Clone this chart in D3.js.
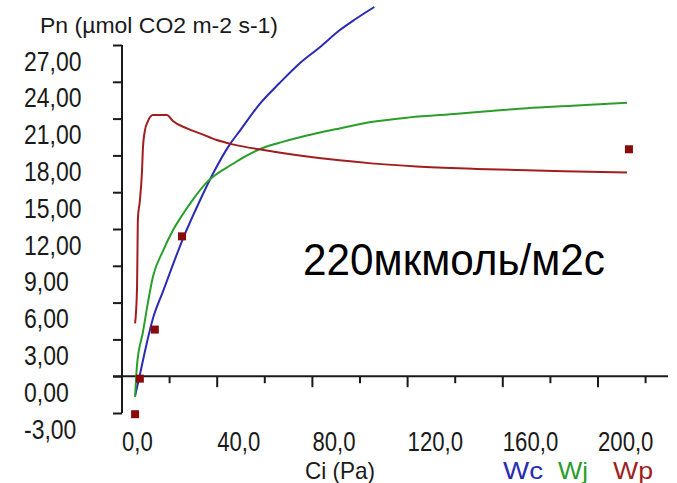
<!DOCTYPE html>
<html><head><meta charset="utf-8">
<script src="https://cdn.jsdelivr.net/npm/d3@7"></script>
<style>
html,body{margin:0;padding:0;background:#fff;}
svg{display:block;}
.ax{font-family:"Liberation Sans",Arial,sans-serif;fill:#1a1a1a;}
</style></head>
<body><svg id="c" width="677" height="483"></svg>
<script>
// ---- data ----
const yTicks = [-3, 0, 3, 6, 9, 12, 15, 18, 21, 24, 27];
const yTickLabels = ["-3,00","0,00","3,00","6,00","9,00","12,00","15,00","18,00","21,00","24,00","27,00"];
const xTicks = [0, 20, 40, 60, 80, 100, 120, 140, 160, 180, 200, 220];
const xLabelTicks = [0, 40, 80, 120, 160, 200];
const xTickLabels = ["0,0","40,0","80,0","120,0","160,0","200,0"];

const wcCi = [5.5, 7.5, 9.6, 13.0, 17.2, 21.4, 25.6, 32.7, 38.2, 45.3, 49.5, 57.9, 66.2, 74.6, 83.0, 91.4, 98.0, 106];
const wcPn = [-1.6, 0.1, 2.0, 4.7, 6.9, 9.1, 11.2, 14.3, 16.5, 18.9, 20.0, 22.2, 23.9, 25.5, 26.8, 28.2, 29.1, 30.1];

const wjCi = [5.5, 6.3, 8.8, 10.9, 13.0, 17.2, 21.4, 25.2, 29.8, 35.6, 46.5, 59.1, 67.5, 81.8, 91.4, 104, 120.8, 140.9, 153.5, 170.2, 189.1, 212.2];
const wjPn = [-1.7, 0.9, 3.6, 6.0, 8.1, 10.2, 11.9, 13.1, 14.4, 15.8, 17.3, 18.6, 19.1, 19.8, 20.2, 20.7, 21.1, 21.4, 21.6, 21.85, 22.05, 22.3];

const wpCi = [5.5, 6.3, 6.7, 7.5, 8.4, 8.8, 9.6, 10.9, 13.0, 18.9, 21.4, 27.3, 32.7, 39.8, 46.5, 60.8, 74.6, 91.4, 104.8, 123.7, 148.8, 185.7, 212.2];
const wpPn = [4.3, 7.1, 12.9, 14.3, 16.7, 18.6, 20.0, 20.8, 21.3, 21.3, 20.8, 20.2, 19.8, 19.25, 18.9, 18.4, 18.0, 17.6, 17.35, 17.1, 16.9, 16.7, 16.6];

const obsCi = [5.5, 7.5, 13.8, 25.2, 213];
const obsPn = [-3.1, -0.2, 3.8, 11.4, 18.5];

const seriesNames = ["Wc", "Wj", "Wp"];
const seriesColors = ["#2a2ab4", "#2a9e2a", "#a01e1e"];
const annotation = "220мкмоль/м2с";
const yTitle = "Pn (µmol CO2 m-2 s-1)";
const xTitle = "Ci (Pa)";

// ---- scales ----
const x = d3.scaleLinear().domain([0, 200]).range([122, 598]);
const y = d3.scaleLinear().domain([-3, 27]).range([413, 45]);

const svg = d3.select("#c");

// Y axis
const yAxis = d3.axisLeft(y).tickValues(yTicks).tickSize(9).tickFormat("");
const gy = svg.append("g").attr("transform", "translate(122,0)").call(yAxis);
gy.select(".domain").attr("d", `M0,${y(-3)}V${y(27)}`).attr("stroke", "#1a1a1a").attr("stroke-width", 2);
gy.selectAll(".tick line").attr("stroke", "#1a1a1a").attr("stroke-width", 2);

svg.append("g").selectAll("text").data(yTicks).join("text")
  .attr("class", "ax narrow").attr("x", 24).attr("y", d => y(d) + 25.5)
  .attr("font-size", 28).text((d, i) => yTickLabels[i]);

// X axis
svg.append("line").attr("x1", 113).attr("x2", 668).attr("y1", y(0)).attr("y2", y(0))
  .attr("stroke", "#1a1a1a").attr("stroke-width", 2);
svg.append("g").selectAll("line").data(xTicks.filter(d => d > 0)).join("line")
  .attr("x1", d => x(d)).attr("x2", d => x(d))
  .attr("y1", y(0)).attr("y2", d => y(0) + (d % 40 === 0 ? 11 : 7))
  .attr("stroke", "#1a1a1a").attr("stroke-width", 2);
svg.append("g").selectAll("text").data(xLabelTicks).join("text")
  .attr("class", "ax narrow").attr("x", d => x(d)).attr("y", 451)
  .attr("font-size", 27).text((d, i) => xTickLabels[i]);

// titles
svg.append("text").attr("class", "ax").attr("x", 40).attr("y", 33)
  .attr("font-size", 22).attr("textLength", 238).attr("lengthAdjust", "spacingAndGlyphs").text(yTitle);
svg.append("text").attr("class", "ax").attr("x", 305).attr("y", 479)
  .attr("font-size", 24).attr("textLength", 70).attr("lengthAdjust", "spacingAndGlyphs").text(xTitle);

// legend
const legX = [503, 558, 613];
const legW = [40, 30, 40];
svg.append("g").selectAll("text").data(seriesNames).join("text")
  .attr("class", "ax").attr("x", (d, i) => legX[i]).attr("y", 479)
  .attr("font-size", 24).attr("textLength", (d, i) => legW[i]).attr("lengthAdjust", "spacingAndGlyphs")
  .style("fill", (d, i) => seriesColors[i]).text(d => d);

// narrow the axis-number font (condensed look of the original)
svg.selectAll("text.narrow").each(function () {
  const w = this.getComputedTextLength();
  d3.select(this).attr("textLength", w * 0.82).attr("lengthAdjust", "spacingAndGlyphs");
});

// lines
const line = d3.line().x(d => x(d[0])).y(d => y(d[1])).curve(d3.curveMonotoneX);
const series = [
  d3.zip(wcCi, wcPn),
  d3.zip(wjCi, wjPn),
  d3.zip(wpCi, wpPn)
];
svg.append("g").selectAll("path").data(series).join("path")
  .attr("d", line).attr("fill", "none")
  .attr("stroke", (d, i) => seriesColors[i]).attr("stroke-width", 2);

// observed points
svg.append("g").selectAll("rect").data(d3.zip(obsCi, obsPn)).join("rect")
  .attr("x", d => x(d[0]) - 4).attr("y", d => y(d[1]) - 4)
  .attr("width", 8).attr("height", 8).attr("fill", "#8a0a0a");

// annotation
svg.append("text").attr("x", 303).attr("y", 275)
  .attr("font-family", "'Liberation Sans', Arial, sans-serif").attr("font-size", 44)
  .attr("textLength", 302).attr("lengthAdjust", "spacingAndGlyphs")
  .attr("fill", "#000").text(annotation);
</script></body></html>
